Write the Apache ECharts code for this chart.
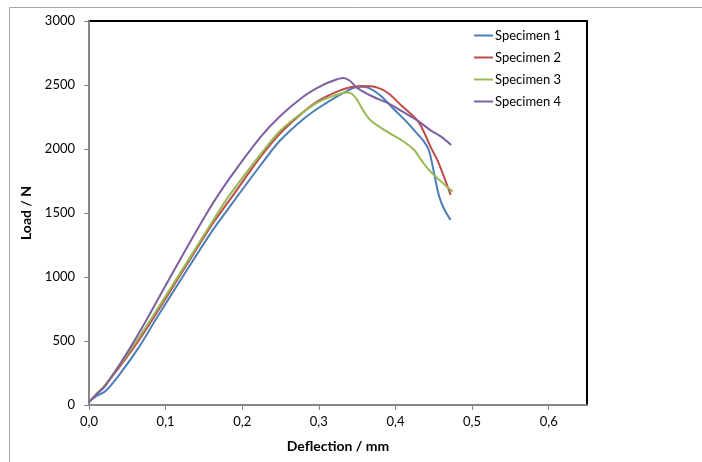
<!DOCTYPE html>
<html>
<head>
<meta charset="utf-8">
<script src="https://cdn.jsdelivr.net/npm/echarts@6/dist/echarts.min.js"></script>
<style>html,body{margin:0;padding:0;background:#fff}#c{width:702px;height:462px}</style>
</head>
<body>
<div id="c"></div>
<script>
var seriesNames = ['Specimen 1', 'Specimen 2', 'Specimen 3', 'Specimen 4'];
var colors = ['#4A7EBB', '#BE4B48', '#98B954', '#7D60A0'];
var xTicks = [0, 0.1, 0.2, 0.3, 0.4, 0.5, 0.6];
var yTicks = [0, 500, 1000, 1500, 2000, 2500, 3000];

var specimen1 = [[0,25],[0.01,70],[0.022,112],[0.04,240],[0.065,450],[0.0867,664],[0.121,990],[0.1587,1341],[0.1805,1523],[0.2241,1875],[0.25,2070],[0.28,2235],[0.302,2330],[0.328,2425],[0.3456,2478],[0.355,2487],[0.365,2478],[0.38,2420],[0.398,2310],[0.415,2210],[0.428,2122],[0.437,2060],[0.4435,1992],[0.45,1823],[0.4565,1641],[0.463,1537],[0.472,1445]];
var specimen2 = [[0,25],[0.01,85],[0.02,145],[0.0563,430],[0.0824,664],[0.1587,1393],[0.174,1523],[0.1846,1610],[0.2241,1940],[0.25,2125],[0.28,2290],[0.302,2385],[0.328,2458],[0.34,2480],[0.355,2492],[0.368,2490],[0.38,2472],[0.392,2430],[0.407,2344],[0.428,2227],[0.437,2135],[0.4457,2018],[0.4565,1888],[0.472,1641]];
var specimen3 = [[0,25],[0.01,88],[0.02,150],[0.054,430],[0.0802,664],[0.1587,1410],[0.1706,1525],[0.1846,1650],[0.2241,1960],[0.25,2145],[0.28,2290],[0.302,2375],[0.328,2432],[0.336,2442],[0.343,2432],[0.35,2383],[0.358,2300],[0.367,2227],[0.389,2136],[0.411,2057],[0.4245,1992],[0.433,1919],[0.4457,1823],[0.4747,1667]];
var specimen4 = [[0,20],[0.01,85],[0.0214,150],[0.0519,430],[0.075,664],[0.1047,985],[0.1563,1523],[0.1846,1780],[0.2241,2095],[0.25,2260],[0.28,2410],[0.302,2490],[0.3151,2525],[0.3317,2555],[0.34,2535],[0.35,2478],[0.37,2410],[0.389,2362],[0.41,2290],[0.428,2225],[0.445,2150],[0.46,2095],[0.4727,2031]];
var allData = [specimen1, specimen2, specimen3, specimen4];

var font = 'Lato, "Open Sans", sans-serif';
var chart = echarts.init(document.getElementById('c'), null, {renderer: 'canvas'});
chart.setOption({
  animation: false,
  backgroundColor: '#fff',
  graphic: [{
    type: 'rect', silent: true, z: -10,
    shape: {x: 9.5, y: 7.5, width: 900, height: 900},
    style: {fill: 'none', stroke: '#a6a6a6', lineWidth: 1}
  }],
  grid: {left: 89, top: 21, right: 115, bottom: 57, show: true, borderColor: '#000', borderWidth: 2, backgroundColor: 'transparent'},
  legend: {
    orient: 'vertical', left: 469, top: 24,
    data: seriesNames,
    icon: 'rect', itemWidth: 19, itemHeight: 2, itemGap: 9,
    textStyle: {fontFamily: font, fontSize: 13, color: '#000', padding: [0,0,0,-3]}
  },
  xAxis: {
    type: 'value', min: 0, max: 0.65, interval: 0.1,
    name: 'Deflection / mm', nameLocation: 'middle', nameGap: 34,
    nameTextStyle: {fontFamily: font, fontSize: 14, fontWeight: 'bold', color: '#000'},
    axisLine: {show: true, onZero: false, lineStyle: {color: '#868686', width: 2}},
    axisTick: {show: true, length: 5, lineStyle: {color: '#868686'}},
    splitLine: {show: false},
    axisLabel: {
      fontFamily: font, fontSize: 13, color: '#000', margin: 10, showMaxLabel: false,
      formatter: function (v) {
        var ok = xTicks.some(function (t) { return Math.abs(t - v) < 1e-9; });
        return ok ? v.toFixed(1).replace('.', ',') : '';
      }
    }
  },
  yAxis: {
    type: 'value', min: 0, max: 3000, interval: 500,
    name: 'Load / N', nameLocation: 'middle', nameGap: 52,
    nameTextStyle: {fontFamily: font, fontSize: 14, fontWeight: 'bold', color: '#000'},
    axisLine: {show: true, onZero: false, lineStyle: {color: '#868686', width: 2}},
    axisTick: {show: true, length: 5, lineStyle: {color: '#868686'}},
    splitLine: {show: false},
    axisLabel: {
      fontFamily: font, fontSize: 13, color: '#000', margin: 14,
      formatter: function (v) { return yTicks.indexOf(v) >= 0 ? String(v) : ''; }
    }
  },
  series: allData.map(function (d, i) {
    return {
      name: seriesNames[i], type: 'line', data: d, smooth: 0.35,
      symbol: 'none', color: colors[i],
      lineStyle: {color: colors[i], width: 2}
    };
  })
});
</script>
</body>
</html>
